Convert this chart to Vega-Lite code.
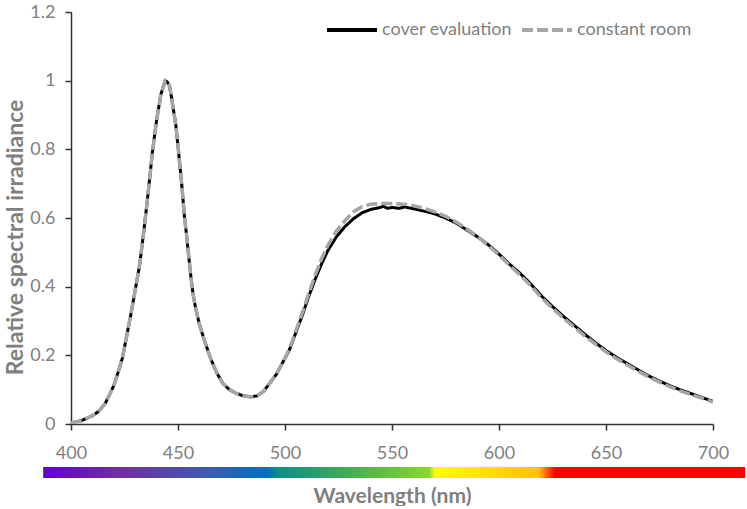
{
  "$schema": "https://vega.github.io/schema/vega-lite/v6.json",
  "background": "white",
  "padding": {"left": 4, "top": 3, "right": 0, "bottom": 0},
  "spacing": 5,
  "config": {
    "view": {"stroke": null},
    "font": "Lato",
    "axis": {
      "labelFont": "Lato", "labelFontSize": 18, "labelColor": "#7f7f7f",
      "titleFont": "Lato", "titleFontSize": 21, "titleFontWeight": "bold", "titleColor": "#7f7f7f",
      "domainColor": "#333333", "tickColor": "#333333", "domainWidth": 1.5, "tickWidth": 1.5,
      "tickSize": 6, "grid": false, "labelFlush": false
    },
    "legend": {"labelFont": "Lato", "labelFontSize": 18, "labelColor": "#7f7f7f"}
  },
  "datasets": {
    "spectra": [
      {"wl": 400, "cover": 0.003, "room": 0.003},
      {"wl": 405, "cover": 0.010, "room": 0.010},
      {"wl": 410, "cover": 0.024, "room": 0.024},
      {"wl": 413, "cover": 0.037, "room": 0.037},
      {"wl": 416, "cover": 0.060, "room": 0.060},
      {"wl": 418, "cover": 0.085, "room": 0.085},
      {"wl": 420, "cover": 0.112, "room": 0.112},
      {"wl": 422, "cover": 0.150, "room": 0.150},
      {"wl": 424, "cover": 0.192, "room": 0.192},
      {"wl": 426, "cover": 0.255, "room": 0.255},
      {"wl": 428, "cover": 0.320, "room": 0.320},
      {"wl": 430, "cover": 0.390, "room": 0.390},
      {"wl": 432, "cover": 0.460, "room": 0.460},
      {"wl": 434, "cover": 0.560, "room": 0.560},
      {"wl": 436, "cover": 0.670, "room": 0.670},
      {"wl": 438, "cover": 0.790, "room": 0.790},
      {"wl": 440, "cover": 0.885, "room": 0.885},
      {"wl": 442, "cover": 0.960, "room": 0.960},
      {"wl": 444, "cover": 1.000, "room": 1.000},
      {"wl": 445, "cover": 0.996, "room": 0.996},
      {"wl": 446, "cover": 0.985, "room": 0.985},
      {"wl": 447, "cover": 0.950, "room": 0.950},
      {"wl": 449, "cover": 0.870, "room": 0.870},
      {"wl": 450, "cover": 0.810, "room": 0.810},
      {"wl": 451, "cover": 0.745, "room": 0.745},
      {"wl": 452, "cover": 0.680, "room": 0.680},
      {"wl": 453, "cover": 0.605, "room": 0.605},
      {"wl": 454, "cover": 0.550, "room": 0.550},
      {"wl": 455, "cover": 0.490, "room": 0.490},
      {"wl": 456, "cover": 0.430, "room": 0.430},
      {"wl": 457, "cover": 0.380, "room": 0.380},
      {"wl": 458, "cover": 0.345, "room": 0.345},
      {"wl": 460, "cover": 0.290, "room": 0.290},
      {"wl": 462, "cover": 0.250, "room": 0.250},
      {"wl": 465, "cover": 0.195, "room": 0.195},
      {"wl": 468, "cover": 0.150, "room": 0.150},
      {"wl": 471, "cover": 0.118, "room": 0.118},
      {"wl": 474, "cover": 0.100, "room": 0.100},
      {"wl": 477, "cover": 0.090, "room": 0.090},
      {"wl": 480, "cover": 0.083, "room": 0.083},
      {"wl": 484, "cover": 0.079, "room": 0.079},
      {"wl": 487, "cover": 0.082, "room": 0.082},
      {"wl": 490, "cover": 0.095, "room": 0.095},
      {"wl": 493, "cover": 0.120, "room": 0.120},
      {"wl": 496, "cover": 0.145, "room": 0.145},
      {"wl": 499, "cover": 0.180, "room": 0.180},
      {"wl": 502, "cover": 0.215, "room": 0.218},
      {"wl": 505, "cover": 0.265, "room": 0.270},
      {"wl": 508, "cover": 0.315, "room": 0.322},
      {"wl": 511, "cover": 0.370, "room": 0.378},
      {"wl": 514, "cover": 0.420, "room": 0.432},
      {"wl": 517, "cover": 0.465, "room": 0.480},
      {"wl": 520, "cover": 0.505, "room": 0.520},
      {"wl": 524, "cover": 0.545, "room": 0.562},
      {"wl": 528, "cover": 0.575, "room": 0.592},
      {"wl": 532, "cover": 0.598, "room": 0.618},
      {"wl": 536, "cover": 0.615, "room": 0.633},
      {"wl": 540, "cover": 0.625, "room": 0.640},
      {"wl": 544, "cover": 0.630, "room": 0.642},
      {"wl": 546, "cover": 0.634, "room": 0.642},
      {"wl": 548, "cover": 0.628, "room": 0.642},
      {"wl": 550, "cover": 0.631, "room": 0.642},
      {"wl": 553, "cover": 0.628, "room": 0.641},
      {"wl": 556, "cover": 0.632, "room": 0.640},
      {"wl": 560, "cover": 0.627, "room": 0.636},
      {"wl": 565, "cover": 0.620, "room": 0.628},
      {"wl": 570, "cover": 0.612, "room": 0.618},
      {"wl": 575, "cover": 0.600, "room": 0.605},
      {"wl": 580, "cover": 0.585, "room": 0.588},
      {"wl": 585, "cover": 0.565, "room": 0.568},
      {"wl": 590, "cover": 0.545, "room": 0.546},
      {"wl": 595, "cover": 0.522, "room": 0.520},
      {"wl": 600, "cover": 0.495, "room": 0.492},
      {"wl": 605, "cover": 0.465, "room": 0.462},
      {"wl": 610, "cover": 0.438, "room": 0.433},
      {"wl": 615, "cover": 0.407, "room": 0.402},
      {"wl": 620, "cover": 0.372, "room": 0.367},
      {"wl": 625, "cover": 0.342, "room": 0.337},
      {"wl": 630, "cover": 0.314, "room": 0.309},
      {"wl": 635, "cover": 0.288, "room": 0.283},
      {"wl": 640, "cover": 0.262, "room": 0.257},
      {"wl": 645, "cover": 0.237, "room": 0.233},
      {"wl": 650, "cover": 0.214, "room": 0.210},
      {"wl": 655, "cover": 0.194, "room": 0.190},
      {"wl": 660, "cover": 0.176, "room": 0.172},
      {"wl": 665, "cover": 0.158, "room": 0.154},
      {"wl": 670, "cover": 0.140, "room": 0.137},
      {"wl": 675, "cover": 0.125, "room": 0.122},
      {"wl": 680, "cover": 0.111, "room": 0.108},
      {"wl": 685, "cover": 0.099, "room": 0.096},
      {"wl": 690, "cover": 0.088, "room": 0.085},
      {"wl": 695, "cover": 0.077, "room": 0.075},
      {"wl": 700, "cover": 0.066, "room": 0.064}
    ],
    "band": [{"name": "visible spectrum", "from": 387, "to": 715}]
  },
  "vconcat": [
    {
      "width": 642,
      "height": 412,
      "data": {"name": "spectra"},
      "encoding": {
        "x": {"field": "wl", "type": "quantitative",
              "scale": {"domain": [400, 700], "nice": false, "zero": false},
              "axis": {"values": [400, 450, 500, 550, 600, 650, 700], "title": null, "labelPadding": 14}}
      },
      "layer": [
        {
          "mark": {"type": "line", "strokeWidth": 3, "clip": true},
          "encoding": {
            "y": {"field": "cover", "type": "quantitative",
                  "scale": {"domain": [0, 1.2], "nice": false},
                  "axis": {"values": [0, 0.2, 0.4, 0.6, 0.8, 1, 1.2], "format": "~g", "labelPadding": 10,
                           "title": "Relative spectral irradiance", "titleFontSize": 23, "titleX": -56, "titleY": 225, "titleBaseline": "middle"}},
            "color": {"datum": "cover evaluation", "type": "nominal",
                      "scale": {"domain": ["cover evaluation", "constant room"], "range": ["#000000", "#a6a6a6"]},
                      "legend": {"title": null, "orient": "none", "direction": "horizontal", "legendX": 254, "legendY": -9,
                                 "symbolType": "stroke", "symbolSize": 2500, "symbolStrokeWidth": 4, "columnPadding": 2, "labelOffset": 3}},
            "strokeDash": {"datum": "cover evaluation", "type": "nominal",
                           "scale": {"domain": ["cover evaluation", "constant room"], "range": [[1, 0], [11, 4]]},
                           "legend": {"title": null, "orient": "none", "direction": "horizontal", "legendX": 254, "legendY": -9,
                                      "symbolType": "stroke", "symbolSize": 2500, "symbolStrokeWidth": 4, "columnPadding": 2, "labelOffset": 3}}
          }
        },
        {
          "mark": {"type": "line", "strokeWidth": 3.5, "clip": true},
          "encoding": {
            "y": {"field": "room", "type": "quantitative"},
            "color": {"datum": "constant room", "type": "nominal"},
            "strokeDash": {"datum": "constant room", "type": "nominal"}
          }
        }
      ]
    },
    {
      "width": 642,
      "height": 11,
      "data": {"name": "band"},
      "mark": {"type": "rect", "clip": false,
               "color": {"gradient": "linear", "x1": 0, "x2": 1, "y1": 0, "y2": 0,
                         "stops": [
                           {"offset": 0, "color": "#6400cc"},
                           {"offset": 0.112, "color": "#7030a0"},
                           {"offset": 0.242, "color": "#3a5cb4"},
                           {"offset": 0.319, "color": "#0070c0"},
                           {"offset": 0.335, "color": "#0a9084"},
                           {"offset": 0.447, "color": "#4cb050"},
                           {"offset": 0.55, "color": "#88d82c"},
                           {"offset": 0.558, "color": "#ffff00"},
                           {"offset": 0.706, "color": "#ffc000"},
                           {"offset": 0.729, "color": "#ff0000"},
                           {"offset": 1, "color": "#ff0000"}
                         ]}},
      "encoding": {
        "x": {"field": "from", "type": "quantitative",
              "scale": {"domain": [400, 700], "nice": false, "zero": false},
              "axis": {"title": "Wavelength (nm)", "labels": false, "ticks": false, "domain": false, "titlePadding": 7}},
        "x2": {"field": "to"}
      }
    }
  ]
}
